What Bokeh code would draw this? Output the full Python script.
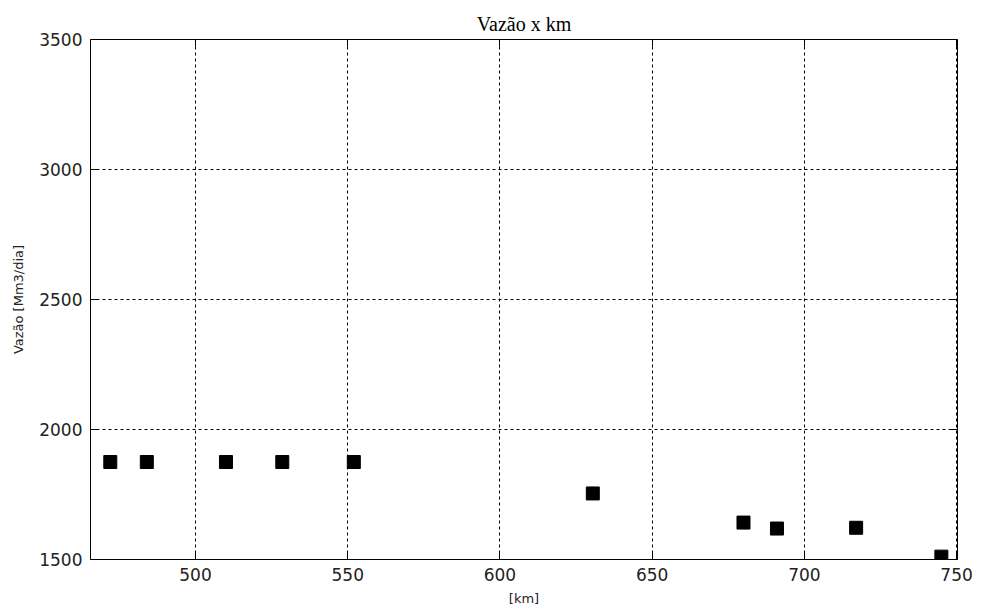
from bokeh.plotting import figure
from bokeh.models import Range1d, LinearAxis, FixedTicker
from bokeh.embed import file_html
from bokeh.resources import INLINE

km = [472, 484, 510, 528.5, 552, 630.5, 680, 691, 717, 745]
vazao = [1875, 1875, 1875, 1875, 1875, 1754, 1642, 1619, 1622, 1511]
x_ticks = [500, 550, 600, 650, 700, 750]
y_ticks = [1500, 2000, 2500, 3000, 3500]

p = figure(width=976, height=612, output_backend="svg", toolbar_location=None,
           x_range=Range1d(465.5, 750.3), y_range=Range1d(1500, 3500),
           min_border_left=90, min_border_right=19, min_border_top=39, min_border_bottom=53,
           title="Vazão x km")

p.title.align = "center"
p.title.text_font = "Liberation Serif"
p.title.text_font_style = "normal"
p.title.text_font_size = "20px"
p.title.text_color = "black"
p.title.standoff = 9

p.outline_line_color = None
p.background_fill_color = "white"
p.border_fill_color = "white"

p.scatter(km, vazao, marker="square", size=13, color="black")

for ax in (p.xaxis[0], p.yaxis[0]):
    ax.major_tick_in = 7
    ax.major_tick_out = 0
    ax.minor_tick_line_color = None
    ax.axis_line_color = "black"
    ax.major_tick_line_color = "black"
    ax.major_label_text_font = "DejaVu Sans"
    ax.major_label_text_font_size = "17px"
    ax.major_label_text_color = "#222222"
    ax.axis_label_text_font = "DejaVu Sans"
    ax.axis_label_text_font_size = "13px"
    ax.axis_label_text_font_style = "normal"
    ax.axis_label_text_color = "#222222"

p.xaxis[0].ticker = FixedTicker(ticks=x_ticks)
p.yaxis[0].ticker = FixedTicker(ticks=y_ticks)
p.xaxis[0].axis_label = "[km]"
p.yaxis[0].axis_label = "Vazão [Mm3/dia]"
p.xaxis[0].major_label_standoff = 8
p.yaxis[0].major_label_standoff = 8
p.xaxis[0].axis_label_standoff = 7
p.yaxis[0].axis_label_standoff = 10

top = LinearAxis(ticker=FixedTicker(ticks=x_ticks), major_tick_in=7, major_tick_out=0,
                 minor_tick_line_color=None, major_label_text_font_size="0px",
                 axis_line_color="black", major_tick_line_color="black")
right = LinearAxis(ticker=FixedTicker(ticks=y_ticks), major_tick_in=7, major_tick_out=0,
                   minor_tick_line_color=None, major_label_text_font_size="0px",
                   axis_line_color="black", major_tick_line_color="black")
top.major_label_text_color = None
right.major_label_text_color = None
p.add_layout(top, "above")
p.add_layout(right, "right")

p.xgrid.ticker = FixedTicker(ticks=x_ticks)
p.ygrid.ticker = FixedTicker(ticks=y_ticks)
for g in (p.xgrid[0], p.ygrid[0]):
    g.grid_line_color = "black"
    g.grid_line_dash = "3 3"
    g.grid_line_width = 1
    g.grid_line_alpha = 1.0

open("out.html", "w").write(file_html(p, INLINE))
